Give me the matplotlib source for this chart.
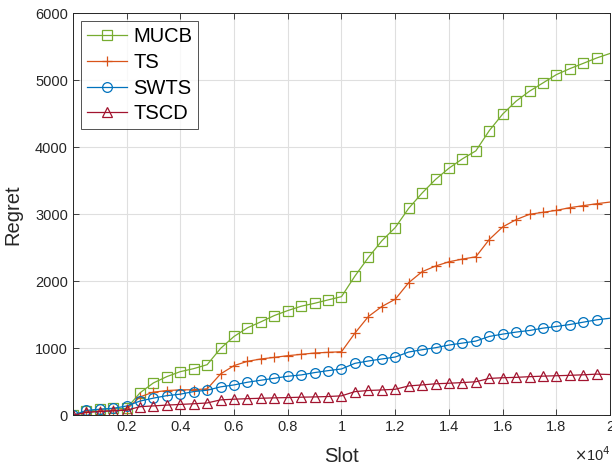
#!/usr/bin/env python3

import numpy as np
import matplotlib
matplotlib.use('Agg')
import matplotlib.pyplot as plt

plt.rcParams['font.family'] = ['Liberation Sans', 'DejaVu Sans']

slots = np.arange(0, 20001, 500)

mucb = [0, 64, 89, 104, 104, 337, 485, 579, 653, 698, 757,
        1000, 1178, 1307, 1396, 1490, 1564, 1629, 1673, 1723, 1772,
        2079, 2356, 2604, 2802, 3089, 3317, 3520, 3688, 3827, 3946,
        4248, 4495, 4688, 4837, 4960, 5084, 5173, 5252, 5332, 5400]
ts = [0, 50, 64, 74, 89, 277, 347, 371, 381, 383, 396,
      619, 743, 807, 842, 866, 891, 911, 931, 941, 950,
      1228, 1475, 1624, 1733, 1980, 2144, 2228, 2292, 2332, 2366,
      2624, 2812, 2921, 3000, 3030, 3059, 3099, 3129, 3158, 3183]
swts = [0, 75, 92, 106, 140, 214, 258, 295, 317, 356, 376,
        426, 455, 495, 525, 554, 584, 604, 639, 668, 693,
        777, 812, 842, 871, 946, 980, 1010, 1050, 1079, 1109,
        1178, 1213, 1243, 1267, 1302, 1327, 1356, 1391, 1426, 1450]
tscd = [0, 45, 58, 68, 78, 130, 142, 154, 164, 174, 186,
        232, 242, 250, 256, 262, 266, 272, 276, 282, 292,
        355, 372, 380, 390, 440, 455, 472, 480, 490, 502,
        552, 562, 568, 578, 586, 592, 598, 606, 616, 610]

series = [
    ('MUCB', mucb, '#77AC30', 's'),
    ('TS', ts, '#D95319', '+'),
    ('SWTS', swts, '#0072BD', 'o'),
    ('TSCD', tscd, '#A2142F', '^'),
]

fig = plt.figure(figsize=(6.12, 4.71), dpi=100)
ax = fig.add_axes([0.119, 0.118, 0.878, 0.854])

marks = list(range(len(slots) - 1))
for name, vals, col, mk in series:
    ax.plot(slots, vals, color=col, marker=mk, markersize=7, markevery=marks,
            markerfacecolor='none', markeredgewidth=0.9, linewidth=0.9, label=name)

ax.set_xlim(0, 20000)
ax.set_ylim(0, 6000)
ax.set_xticks(np.arange(0, 20001, 2000))
ax.set_xticklabels([''] + ['0.2', '0.4', '0.6', '0.8', '1', '1.2', '1.4', '1.6', '1.8', '2'])
ax.set_yticks(np.arange(0, 6001, 1000))
ax.grid(True, color='#dfdfdf', linewidth=0.8)
ax.tick_params(direction='in', top=True, right=True, labelsize=10.5,
               colors='#262626', length=4, width=0.6)
for s in ax.spines.values():
    s.set_color('#262626')
    s.set_linewidth(0.7)

ax.set_xlabel('Slot', fontsize=14.5, color='#262626', labelpad=9)
ax.set_ylabel('Regret', fontsize=14.5, color='#262626', labelpad=9)
fig.text(0.938, 0.022, r'$\times$10$^{4}$', fontsize=10.5, color='#262626')

leg = ax.legend(loc='upper left', fontsize=14.5, handlelength=2.0,
                borderaxespad=0.4, labelspacing=0.33, fancybox=False,
                borderpad=0.3, handletextpad=0.3)
leg.get_frame().set_edgecolor('#262626')
leg.get_frame().set_linewidth(0.7)

fig.savefig('out.png', dpi=100)
